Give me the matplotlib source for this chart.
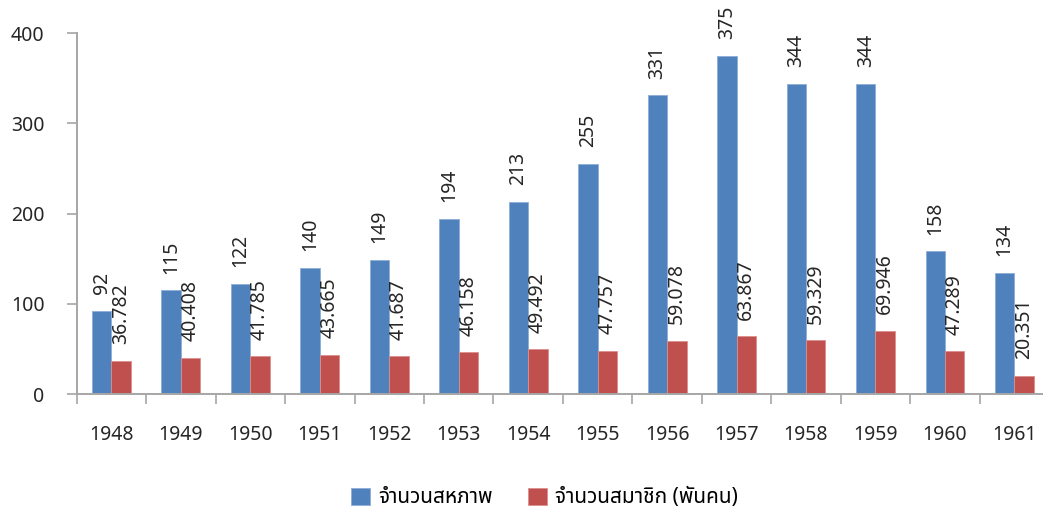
import matplotlib
matplotlib.use("Agg")
import matplotlib.pyplot as plt
from matplotlib import font_manager
import numpy as np

years = ["1948", "1949", "1950", "1951", "1952", "1953", "1954",
         "1955", "1956", "1957", "1958", "1959", "1960", "1961"]
unions = [92, 115, 122, 140, 149, 194, 213, 255, 331, 375, 344, 344, 158, 134]
members = [36.782, 40.408, 41.785, 43.665, 41.687, 46.158, 49.492,
           47.757, 59.078, 63.867, 59.329, 69.946, 47.289, 20.351]
union_labels = [str(v) for v in unions]
member_labels = ["36.782", "40.408", "41.785", "43.665", "41.687", "46.158", "49.492",
                 "47.757", "59.078", "63.867", "59.329", "69.946", "47.289", "20.351"]
series_names = ["จำนวนสหภาพ", "จำนวนสมาชิก (พันคน)"]

# Thai glyphs need a fallback family; use whatever Thai font is installed
installed = sorted({f.name for f in font_manager.fontManager.ttflist})
preferred = ["Tahoma", "Noto Sans Thai", "Sarabun", "Loma", "Garuda"]
thai_fonts = [n for n in preferred if n in installed]
thai_fonts += [n for n in installed if "Thai" in n and n not in thai_fonts]
plt.rcParams["font.family"] = ["Noto Sans"] + thai_fonts + ["DejaVu Sans"]

blue = "#4F81BD"
red = "#C0504D"
grey = "#A6A6A6"
txt = "#262626"

fig = plt.figure(figsize=(10.43, 5.08), dpi=100)
ax = fig.add_axes([0.0735, 0.2244, 0.9324, 0.7106])

x = np.arange(len(years))
w = 0.28
b1 = ax.bar(x - w / 2, unions, w, color=blue, edgecolor="#8DAED6", linewidth=0.6, label=series_names[0])
b2 = ax.bar(x + w / 2, members, w, color=red, edgecolor="#DC8E8C", linewidth=0.6, label=series_names[1])
ax.bar_label(b1, labels=union_labels, rotation=90, padding=12, fontsize=14, color=txt)
ax.bar_label(b2, labels=member_labels, rotation=90, padding=12, fontsize=14, color=txt)

ax.set_xlim(-0.5, len(years) - 0.5)
ax.set_ylim(0, 400)
ax.set_yticks([0, 100, 200, 300, 400])
ax.tick_params(axis="y", length=7, width=1.2, color=grey, labelsize=14, labelcolor=txt, pad=16)

ax.set_xticks(x)
ax.set_xticklabels(years)
ax.tick_params(axis="x", which="major", length=0, labelsize=14, labelcolor=txt, pad=22)
ax.set_xticks(np.arange(-0.5, len(years) + 0.5), minor=True)
ax.tick_params(axis="x", which="minor", length=7, width=1.2, color=grey)

for s in ["top", "right"]:
    ax.spines[s].set_visible(False)
for s in ["left", "bottom"]:
    ax.spines[s].set_color(grey)
    ax.spines[s].set_linewidth(1.4)

fig.legend(handles=[b1, b2], labels=series_names, loc="center", bbox_to_anchor=(0.522, 0.02),
           ncol=2, frameon=False, fontsize=15, handlelength=0.9, handleheight=0.9,
           columnspacing=1.7, handletextpad=0.4, borderpad=0)

fig.savefig("out.png", dpi=100)
